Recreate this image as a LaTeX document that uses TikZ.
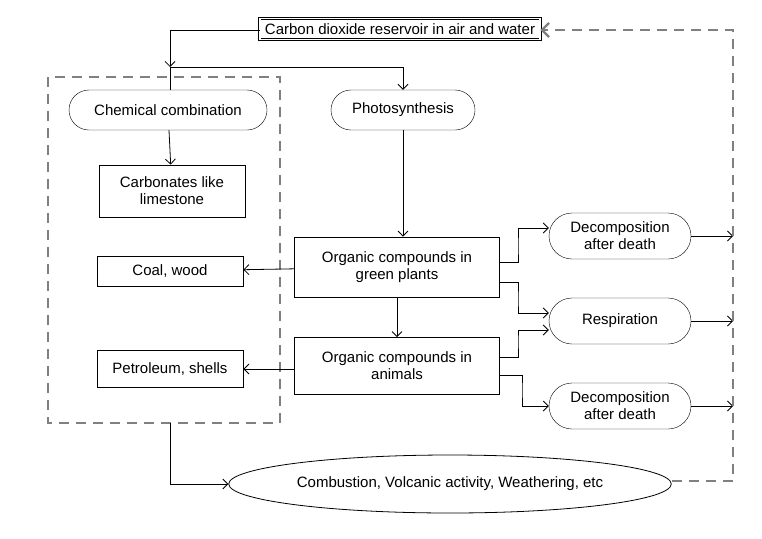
\documentclass[tikz,border=0pt]{standalone}
\usepackage{fontspec}
\setmainfont{Liberation Sans}
\usetikzlibrary{shapes.geometric,shapes.misc,arrows.meta}
\begin{document}
\begin{tikzpicture}[x=1pt,y=-1pt,font=\fontsize{15}{17}\selectfont,
    box/.style={draw,thick,minimum width=146,align=center,inner sep=2pt},
    pill/.style={draw,rounded rectangle,minimum width=144,minimum height=46,align=center,inner sep=1pt},
    link/.style={thick,-{Straight Barb[length=5pt]}},
    store/.style={line width=2.2pt,gray,dash pattern=on 10pt off 7pt}]
    \useasboundingbox (0,0) rectangle (762,538);

    % reservoir
    \node[draw,double,double distance=1.5pt,thick,inner sep=5pt] (co2) at (400,29){Carbon dioxide reservoir in air and water};

    % left column
    \node[pill,minimum width=200,minimum height=40] (chem) at (168,110){Chemical combination};
    \node[box,minimum height=52] (carb) at (172,191){Carbonates like\\limestone};
    \node[box,minimum height=30] (coal) at (170,271){Coal, wood};
    \node[box,minimum height=37] (petro) at (170,369){Petroleum, shells};

    % middle column
    \node[pill,minimum width=146,minimum height=40] (photo) at (403,110){Photosynthesis};
    \node[box,minimum width=205,minimum height=60] (plants) at (397,267){Organic compounds in\\green plants};
    \node[box,minimum width=205,minimum height=57] (animals) at (397,366){Organic compounds in\\animals};

    % right column
    \node[pill] (decA) at (620,236){Decomposition\\after death};
    \node[pill] (resp) at (620,321){Respiration};
    \node[pill] (decB) at (620,406){Decomposition\\after death};

    \node[draw,ellipse,thick,minimum width=410,minimum height=58] (comb) at (450,484){Combustion, Volcanic activity, Weathering, etc};

    \coordinate (split) at (170,67);
    \coordinate (boxbot) at (170,423);
    \coordinate (rail) at (733,30);

    % store
    \draw[store] (48,77) rectangle (280,423);

    \draw[link] (co2.west |- 0,30) -| (split);
    \draw[thick] (split) -- (chem.north -| split);
    \draw[link] (split) -| (photo.north);
    \draw[link] (chem) -- (carb);
    \draw[link] (photo.south) -- (photo.south |- plants.north);
    \draw[link] (plants) -- (coal);
    \draw[link] (plants) -- (animals);
    \draw[link] (animals.west |- petro) -- (petro);

    \draw[link] (plants.east |- 0,262) -| (518,247) |- (decA.west |- 0,228);
    \draw[link] (plants.east |- 0,282) -| (518,300) |- (resp.west |- 0,313);
    \draw[link] (animals.east |- 0,357) -| (518,340) |- (resp.west |- 0,330);
    \draw[link] (animals.east |- 0,375) -| (522,390) |- (decB.west);

    \draw[link] (decA.east) -- (decA.east -| rail);
    \draw[link] (resp.east) -- (resp.east -| rail);
    \draw[link] (decB.east) -- (decB.east -| rail);

    \draw[link] (boxbot) |- (comb.west);
    \draw[store,-{Straight Barb[length=7pt]}] (comb.east |- 0,481) -| (rail) -- (co2.east |- rail);
\end{tikzpicture}
\end{document}
